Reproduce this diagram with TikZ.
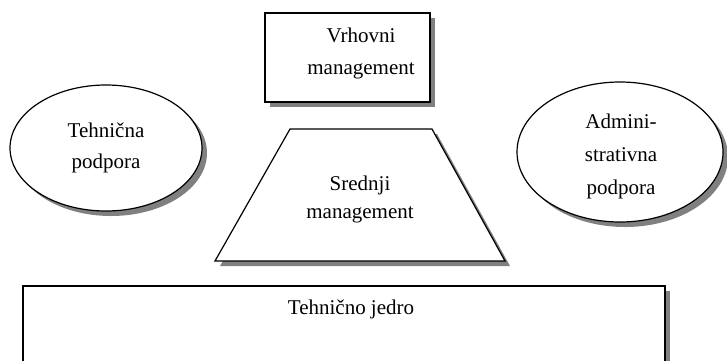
\documentclass[tikz,border=0pt]{standalone}
\usepackage{fontspec}
\setmainfont{Liberation Serif}
\usetikzlibrary{shapes.geometric,shadows}
\tikzset{
  shade5/.style={drop shadow={shadow xshift=5pt, shadow yshift=-5pt, fill=black!50, opacity=1}},
  unit/.style={draw=black, line width=1.2pt, fill=white, shade5},
  txt/.style={align=center, inner sep=0pt, font=\fontsize{21}{#1}\selectfont},
  txt/.default=28,
}
\begin{document}
\begin{tikzpicture}[x=1pt,y=-1pt]
  \useasboundingbox (0,0) rectangle (727,360);
  \clip (0,0) rectangle (727,360);

  % strategic apex
  \node[unit, rectangle, minimum width=165pt, minimum height=89pt] (vrh) at (347.5,57.5) {};
  \node[txt=32] (vrhtxt) at (361,53) {Vrhovni\\management};

  % support units
  \node[unit, ellipse, minimum width=192pt, minimum height=126pt, inner sep=0pt] (teh) at (106,148) {};
  \node[txt=31] (tehtxt) at (106,148) {Tehnična\\podpora};
  \node[unit, ellipse, minimum width=206pt, minimum height=140pt, inner sep=0pt] (adm) at (620,152) {};
  \node[txt=33] (admtxt) at (621,156) {Admini-\\strativna\\podpora};

  % middle line
  \draw[unit] (290,129) -- (432,129) -- (505,261) -- (215,261) -- cycle;
  \node[txt=28] (sred) at (360,199) {Srednji\\management};

  % operating core
  \node[unit, rectangle, minimum width=642pt, minimum height=100pt] (jedro) at (344,336) {};
  \node[txt] (jedrotxt) at (351,309) {Tehnično jedro};
\end{tikzpicture}
\end{document}
